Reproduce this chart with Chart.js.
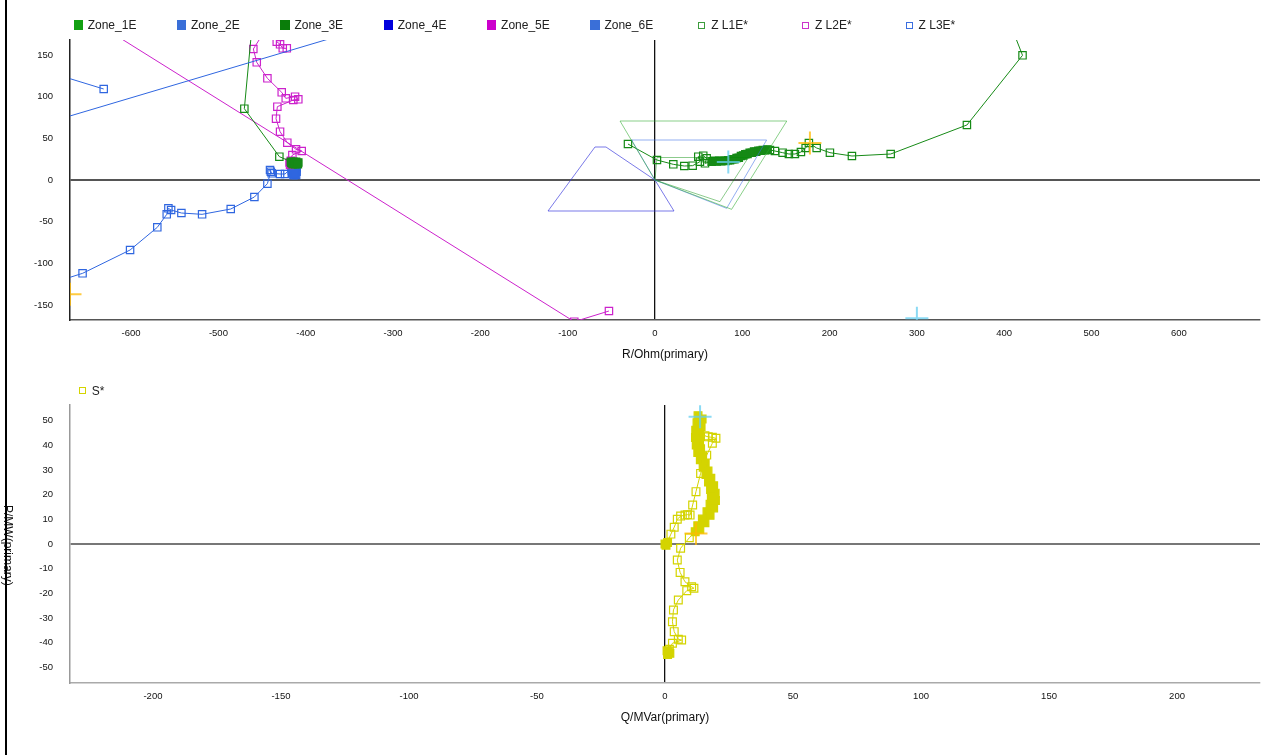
<!DOCTYPE html>
<html>
<head>
<meta charset="utf-8">
<title>Impedance and power trajectories</title>
<script src="https://cdn.jsdelivr.net/npm/chart.js@4/dist/chart.umd.min.js"></script>
<style>
  html, body { margin: 0; padding: 0; background: #fff; }
  #page { position: relative; width: 1274px; height: 755px; overflow: hidden; background: #fff;
          font-family: "Liberation Sans", Arial, Helvetica, sans-serif; }
  #page canvas { position: absolute; left: 0; }
  .leg { position: absolute; height: 14px; line-height: 14px; font-size: 12px; color: #222; white-space: nowrap; }
  .leg i { position: absolute; box-sizing: border-box; display: block; }
  #ptitle { position: absolute; left: 1px; top: 505px; writing-mode: vertical-rl; font-size: 12px;
            line-height: 14px; color: #111; white-space: nowrap; }
  .frame { position: absolute; background: #000; }
</style>
</head>
<body>
<div id="page">
  <canvas id="zChart" width="1274" height="372" style="top:0"></canvas>
  <canvas id="sChart" width="1274" height="383" style="top:372px"></canvas>
  <div id="ptitle">P/MW(primary)</div>
  <div class="frame" style="left:5px;top:0;width:2px;height:755px"></div>
</div>
<script>
// ---------- axis tick values ----------
const rTicks = [-600, -500, -400, -300, -200, -100, 0, 100, 200, 300, 400, 500, 600];
const xTicks = [-150, -100, -50, 0, 50, 100, 150];
const qTicks = [-200, -150, -100, -50, 0, 50, 100, 150, 200];
const pTicks = [-50, -40, -30, -20, -10, 0, 10, 20, 30, 40, 50];

// ---------- protection zone characteristics (R, X) ----------
const zone1E = [[0, 0], [-40, 70.8], [151, 70.8], [87.8, -35.2], [0, 0]];
const zone2E = [[0, 0], [-26.7, 48], [127.9, 48], [82.1, -34], [0, 0]];
const zone3E = [[0, 0], [2.3, 27], [107, 27], [74.4, -26], [0, 0]];
const zone4E = [[0, 0], [-56.1, 39.6], [-68.7, 39.6], [-122.5, -37.2], [21.8, -37.2], [0, 0]];
const zone5E = [];
const zone6E = [[-800, 36.3], [-300, 192.2]];

// ---------- loop impedance Z L1E* ----------
const zL1Lead = [[-30.9, 43.2], [2.3, 24.0], [21.0, 18.8], [33.6, 16.8], [43.2, 17.2], [51.5, 22.0],
  [49.6, 28.0], [55.3, 29.2], [59.2, 26.0], [57.3, 20.0], [64.9, 22.0]];
const zL1Band = [[66, 22.4], [68.5, 23.0], [71, 22.2], [73.5, 23.0], [76, 22.4], [78.5, 23.2], [81, 22.8],
  [83.5, 23.8], [86, 23.6], [88.5, 24.8], [91, 24.8], [93.5, 26.4], [96, 26.8], [98.5, 28.8], [101, 29.4],
  [103.5, 31.0], [106, 31.2], [108.5, 32.8], [111, 32.8], [113.5, 34.2], [116, 34.0], [118.5, 35.2],
  [121, 35.0], [123.5, 36.0], [126, 35.8], [128.5, 36.6]];
const zL1Tail = [[131.7, 36.0], [137.4, 34.8], [146.2, 32.8], [153.4, 31.2], [160.3, 31.2], [167.2, 33.6],
  [172.6, 38.4], [176.3, 44.4], [185.2, 38.4], [200.4, 32.8], [225.6, 28.8], [270.0, 31.2], [357.3, 66.0],
  [421.0, 149.6], [-294, 2068], [-470.3, 85.6], [-430.2, 28.0]];
const zL1Blob = [[-417, 22], [-414, 22], [-411, 22], [-408.5, 21], [-409, 19], [-412, 19], [-415, 19],
  [-416.5, 20.5], [-413, 20.5], [-410, 20]];

// ---------- loop impedance Z L2E* ----------
const zL2Lead = [[-52.7, -157.2], [-92.4, -170], [-750, 260.3], [-416, 230], [-460, 157.2], [-456.1, 141.2],
  [-443.9, 122], [-427.5, 105.2], [-422.9, 98], [-412.2, 100], [-408.5, 96.8], [-414.2, 96], [-432.5, 88],
  [-434, 73.6], [-429.4, 58], [-421.1, 44.8], [-411.1, 36.8], [-404.6, 34.8], [-415.3, 30]];
const zL2Blob = [[-418.5, 21], [-418, 18], [-417, 23]];
const zL2Top = [null, [-433.2, 166], [-429.4, 162.8], [-426.3, 158], [-421.7, 158]];

// ---------- loop impedance Z L3E* ----------
const zL3Lead = [[-631.4, 109.2], [-743.6, 145.2], [-740.6, -140.2], [-655.6, -112.0], [-601.2, -84.0],
  [-570.0, -56.8], [-559.2, -41.2], [-557.3, -34.0], [-554.2, -36.0], [-542.4, -39.6], [-518.7, -41.2],
  [-485.9, -34.8], [-458.8, -20.4], [-443.9, -4.4], [-440.0, 10.0], [-440.9, 12.0], [-439.0, 8.0],
  [-429.4, 7.2], [-423.7, 7.2]];
const zL3Blob = [[-416, 15], [-413, 15.5], [-410.5, 14], [-410.5, 10], [-411, 6], [-414, 5.8], [-416, 8],
  [-416, 11.5], [-413, 10], [-413, 7]];

// ---------- apparent power S* (Q, P) ----------
const sStart = [[0, 0], [1.0, 0.6], [0.4, -0.5]];
const sRise = [[2.3, 4.0], [3.6, 6.8], [4.8, 10.0], [6.1, 11.3], [7.8, 11.7], [8.8, 11.9], [9.8, 11.7],
  [10.8, 15.8], [12.1, 21.2], [13.9, 28.6], [16.3, 36.0], [18.5, 40.8], [19.9, 42.8], [18.5, 43.2],
  [16.9, 43.4], [15.6, 43.8]];
const sBand = [[12.9, 52.0], [14.5, 50.6], [12.5, 49.1], [14.1, 47.6], [12.0, 46.1], [13.6, 44.6],
  [11.9, 43.1], [13.5, 41.6], [12.2, 40.1], [13.9, 38.6], [12.8, 37.1], [14.7, 35.6], [13.8, 34.1],
  [15.7, 32.6], [14.9, 31.1], [16.8, 29.6], [16.0, 28.1], [17.9, 26.6], [17.0, 25.1], [19.0, 23.6],
  [17.8, 22.1], [19.6, 20.6], [18.1, 19.1], [19.7, 17.6], [17.6, 16.1], [19.0, 14.6], [16.4, 13.1],
  [17.6, 11.6], [14.6, 10.1], [15.6, 8.6], [12.8, 7.4], [13.6, 6.0], [11.8, 5.0]];
const sFall = [[9.5, 2.5], [6.1, -1.7], [4.8, -6.5], [5.9, -11.5], [7.8, -15.3], [10.4, -17.3], [11.3, -17.9],
  [8.5, -18.9], [5.2, -22.7], [3.3, -26.7], [2.9, -31.5], [3.6, -35.5], [5.2, -38.6], [6.5, -38.9],
  [2.9, -40.2], [1.7, -42.6]];
const sEnd = [[1.3, -43.6], [1.0, -44.8], [1.9, -44.3], [0.8, -43.2]];

// ---------- cursor marks ----------
const zCursorA = [[84, 21.6], [300, -166]];
const zCursorB = [[177.5, 44.4], [-670, -137]];
const sCursorA = [[13.7, 51.5]];
const sCursorB = [[12.1, 4.3]];

// ================= drawing =================
const FONT = "'Liberation Sans', Arial, Helvetica, sans-serif";
Chart.defaults.font.family = FONT;
Chart.defaults.color = '#111';

const toXY = arr => arr.map(p => p === null ? { x: 0, y: null } : { x: p[0], y: p[1] });

// A trace is assembled from runs of samples; dense runs are drawn with solid markers.
function trace(label, color, runs, r) {
  const data = [], solid = [];
  runs.forEach(([arr, dense]) => arr.forEach(p => {
    data.push(p === null ? { x: 0, y: null } : { x: p[0], y: p[1] });
    solid.push(dense);
  }));
  return {
    label, data, showLine: true, spanGaps: false, tension: 0, fill: false,
    borderColor: color, backgroundColor: color, borderWidth: 1,
    pointStyle: 'rect', pointRadius: r, pointHoverRadius: r, pointBorderWidth: 1.2,
    pointBorderColor: color,
    pointBackgroundColor: c => solid[c.dataIndex] ? color : 'rgba(255,255,255,0)'
  };
}
function zone(label, color, arr) {
  return { label, data: toXY(arr), showLine: true, fill: false, tension: 0,
           borderColor: color, backgroundColor: color, borderWidth: 1, pointRadius: 0, pointHoverRadius: 0 };
}
function cursor(color, arr, r) {
  return { label: '', data: toXY(arr), showLine: false, pointStyle: 'cross', pointRadius: r,
           pointHoverRadius: r, pointBorderWidth: 2, pointBorderColor: color, pointBackgroundColor: color };
}

function xScale(min, max, ticks, title, height, titlePad, axisColor, zeroColor) {
  return {
    type: 'linear', min, max,
    afterBuildTicks: s => { s.ticks = ticks.map(v => ({ value: v })); },
    afterFit: s => { s.height = height; },
    grid: { drawTicks: false,
            color: c => (c.tick && c.tick.value === 0) ? zeroColor : 'rgba(0,0,0,0)',
            lineWidth: 1.3 },
    border: { display: true, color: axisColor, width: 1.5 },
    ticks: { padding: 8, autoSkip: false, maxRotation: 0, color: '#111', font: { size: 9.5 } },
    title: { display: true, text: title, color: '#111', font: { size: 12 }, padding: { top: 0, bottom: titlePad } }
  };
}
function yScale(min, max, ticks, axisColor, zeroColor) {
  return {
    type: 'linear', min, max,
    afterBuildTicks: s => { s.ticks = ticks.map(v => ({ value: v })); },
    afterFit: s => { s.width = 70; },
    grid: { drawTicks: false,
            color: c => (c.tick && c.tick.value === 0) ? zeroColor : 'rgba(0,0,0,0)',
            lineWidth: 2 },
    border: { display: true, color: axisColor, width: 1.5 },
    ticks: { padding: 17, autoSkip: false, color: '#111', font: { size: 9.5 } }
  };
}

const CYAN = 'rgba(100,205,240,0.75)';
const ORANGE = 'rgba(255,185,0,0.75)';

const zoneNames = ['Zone_1E', 'Zone_2E', 'Zone_3E', 'Zone_4E', 'Zone_5E', 'Zone_6E'];
const zoneLegend = ['#12a012', '#3a6fd8', '#0a7d0a', '#0000dd', '#cc00cc', '#3a6fd8'];
const zoneStroke = ['rgba(40,170,40,0.55)', 'rgba(60,110,230,0.55)', 'rgba(0,140,0,0.45)',
                    'rgba(50,50,220,0.65)', '#cc22cc', '#2f66e0'];
const zoneData = [zone1E, zone2E, zone3E, zone4E, zone5E, zone6E];

const traceNames = ['Z L1E*', 'Z L2E*', 'Z L3E*'];
const traceColor = ['#168a16', '#cc22cc', '#2f66e0'];
const traceLegend = ['#3c9c3c', '#cc33cc', '#3a6ee0'];

const zDatasets = [
  cursor(CYAN, zCursorA, 11.5),
  cursor(ORANGE, zCursorB, 11.5),
  ...zoneNames.map((n, i) => zone(n, zoneStroke[i], zoneData[i])),
  trace(traceNames[0], traceColor[0], [[zL1Lead, false], [zL1Band, true], [zL1Tail, false], [zL1Blob, true]], 5.2),
  trace(traceNames[1], traceColor[1], [[zL2Lead, false], [zL2Blob, true], [zL2Top, false]], 5.2),
  trace(traceNames[2], traceColor[2], [[zL3Lead, false], [zL3Blob, true]], 5.2)
];

const SCOL = 'rgb(212,212,0)';
const sDatasets = [
  cursor(CYAN, sCursorA, 11.5),
  cursor(ORANGE, sCursorB, 11.5),
  trace('S*', SCOL, [[sStart, true], [sRise, false], [sBand, true], [sFall, false], [sEnd, true]], 5.5)
];

const common = {
  responsive: false, animation: false, events: [],
  plugins: { legend: { display: false }, tooltip: { enabled: false }, title: { display: false } }
};

new Chart(document.getElementById('zChart'), {
  type: 'scatter',
  data: { datasets: zDatasets },
  options: Object.assign({}, common, {
    layout: { padding: { left: 0, right: 14, top: 40, bottom: 0 } },
    scales: {
      x: xScale(-670, 693, rTicks, 'R/Ohm(primary)', 52, 9.8, '#555', '#111'),
      y: yScale(-168, 168, xTicks, '#222', '#555')
    }
  })
});

new Chart(document.getElementById('sChart'), {
  type: 'scatter',
  data: { datasets: sDatasets },
  options: Object.assign({}, common, {
    layout: { padding: { left: 0, right: 14, top: 33, bottom: 0 } },
    scales: {
      x: xScale(-232.4, 232.4, qTicks, 'Q/MVar(primary)', 72, 29.8, '#aaa', '#111'),
      y: yScale(-56.3, 56.3, pTicks, '#999', '#777')
    }
  })
});

// ---------- legends ----------
const page = document.getElementById('page');
function legendItem(x, yc, text, color, hollow) {
  const d = document.createElement('div');
  d.className = 'leg';
  d.style.left = x + 'px';
  d.style.top = (yc - 7) + 'px';
  const box = document.createElement('i');
  if (hollow) {
    box.style.left = '1.2px'; box.style.top = '3.5px'; box.style.width = '7px'; box.style.height = '7px';
    box.style.border = '1.3px solid ' + color;
  } else {
    box.style.left = '0'; box.style.top = '2.3px'; box.style.width = '9.4px'; box.style.height = '9.4px';
    box.style.background = color;
  }
  d.appendChild(box);
  const t = document.createElement('span');
  t.textContent = text;
  t.style.marginLeft = '14.2px';
  d.appendChild(t);
  page.appendChild(d);
}
zoneNames.forEach((n, i) => legendItem(73.5 + i * 103.35, 25, n, zoneLegend[i], false));
traceNames.forEach((n, i) => legendItem(697 + i * 103.7, 25, n, traceLegend[i], true));
legendItem(77.5, 390.5, 'S*', SCOL, true);
</script>
</body>
</html>
